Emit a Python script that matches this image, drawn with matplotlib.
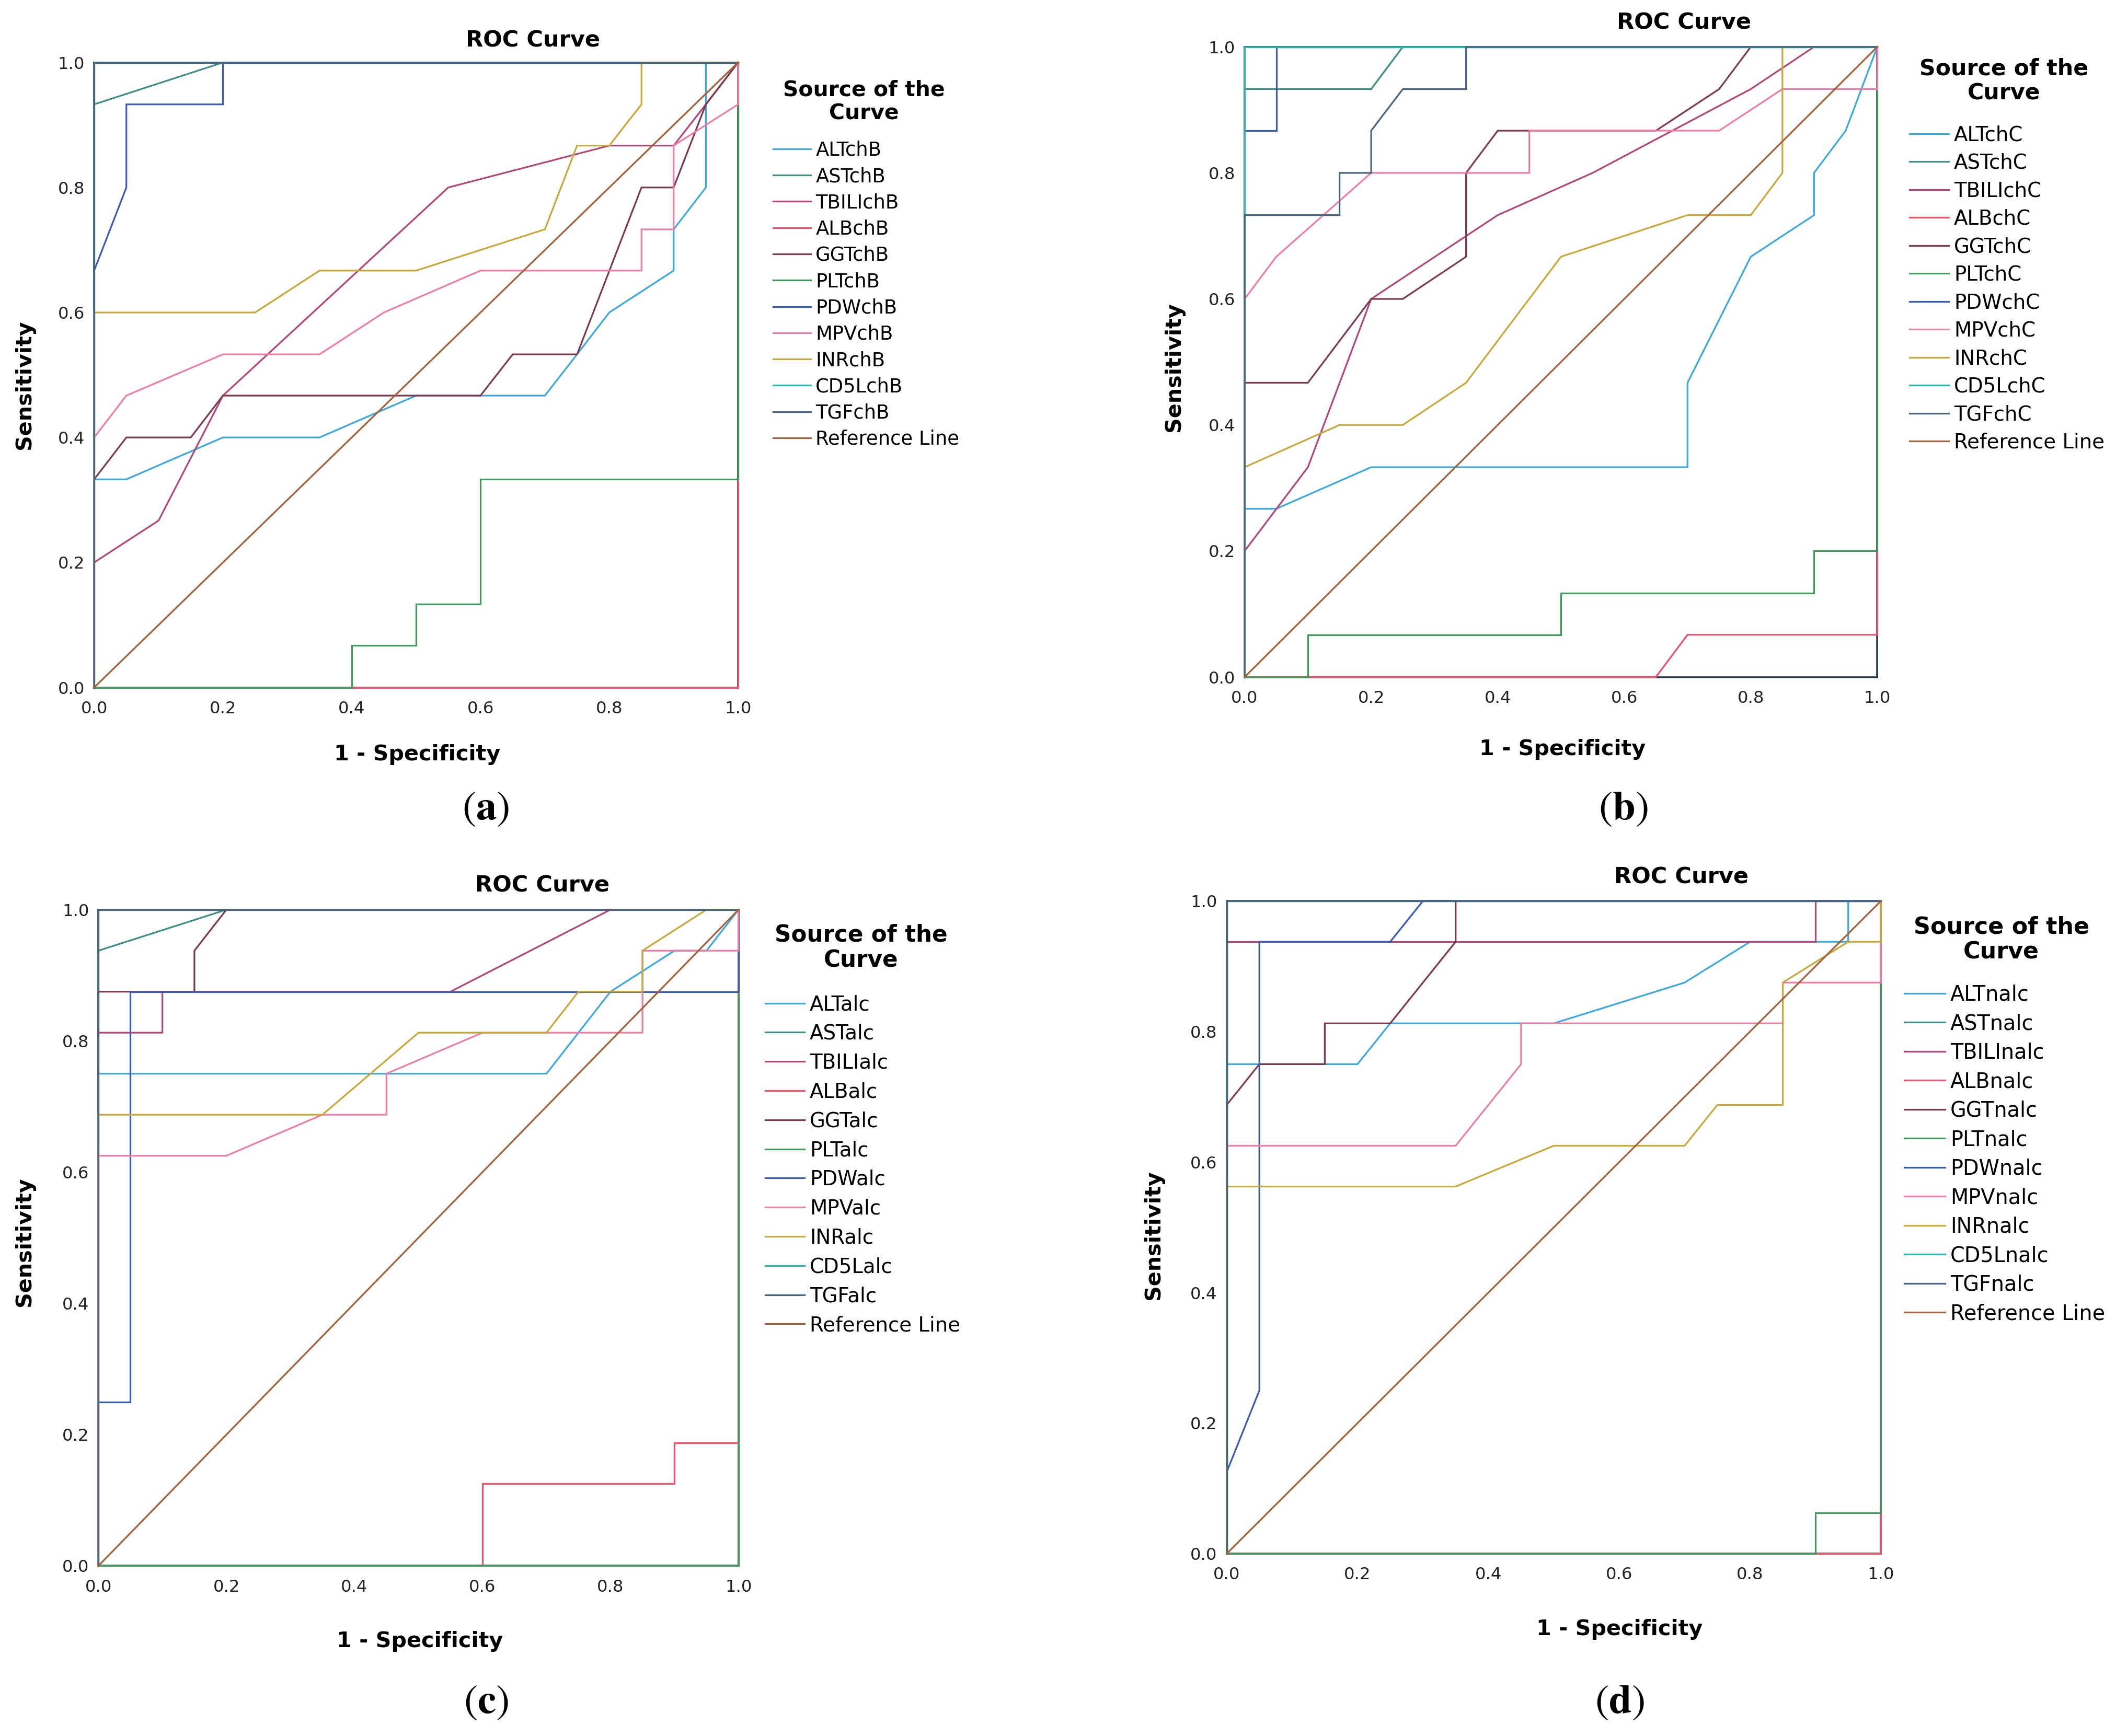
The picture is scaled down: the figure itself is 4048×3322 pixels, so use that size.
import matplotlib
matplotlib.use("Agg")
import matplotlib.pyplot as plt

plt.rcParams["font.family"] = ["DejaVu Sans"]
plt.rcParams["mathtext.fontset"] = "stix"

# ---- data (1 - specificity, sensitivity) ----
names = ["ALT", "AST", "TBILI", "ALB", "GGT", "PLT", "PDW", "MPV", "INR", "CD5L", "TGF"]
suffix = ["chB", "chC", "alc", "nalc"]
panel_tags = ["a", "b", "c", "d"]

colors = ["#3BA9E0", "#3E8E86", "#B5467A", "#F0526E", "#7D3A4E", "#3F9A5C",
          "#3A5BB8", "#F07CA8", "#C8A838", "#2CB8A8", "#4A6580"]
ref_color = "#A4623A"

curves_a = {
    "ALT": ([0, 0, 0.05, 0.2, 0.35, 0.5, 0.7, 0.75, 0.8, 0.9, 0.9, 0.95, 0.95, 1],
            [0, 0.333, 0.333, 0.4, 0.4, 0.467, 0.467, 0.533, 0.6, 0.667, 0.733, 0.8, 1, 1]),
    "AST": ([0, 0, 0.2, 1], [0, 0.933, 1, 1]),
    "TBILI": ([0, 0, 0.1, 0.2, 0.55, 0.8, 0.9, 0.95, 1],
              [0, 0.2, 0.267, 0.467, 0.8, 0.867, 0.867, 0.933, 1]),
    "ALB": ([0, 1, 1], [0, 0, 1]),
    "GGT": ([0, 0, 0.05, 0.15, 0.2, 0.6, 0.65, 0.75, 0.85, 0.9, 0.95, 1],
            [0, 0.333, 0.4, 0.4, 0.467, 0.467, 0.533, 0.533, 0.8, 0.8, 0.933, 1]),
    "PLT": ([0, 0.4, 0.4, 0.5, 0.5, 0.6, 0.6, 1, 1],
            [0, 0, 0.067, 0.067, 0.133, 0.133, 0.333, 0.333, 1]),
    "PDW": ([0, 0, 0.05, 0.05, 0.2, 0.2, 1], [0, 0.667, 0.8, 0.933, 0.933, 1, 1]),
    "MPV": ([0, 0, 0.05, 0.2, 0.35, 0.45, 0.6, 0.85, 0.85, 0.9, 0.9, 1, 1],
            [0, 0.4, 0.467, 0.533, 0.533, 0.6, 0.667, 0.667, 0.733, 0.733, 0.867, 0.933, 1]),
    "INR": ([0, 0, 0.25, 0.35, 0.5, 0.7, 0.75, 0.8, 0.85, 0.85, 1],
            [0, 0.6, 0.6, 0.667, 0.667, 0.733, 0.867, 0.867, 0.933, 1, 1]),
    "CD5L": ([0, 0, 1], [0, 1, 1]),
    "TGF": ([0, 0, 1], [0, 1, 1]),
}

curves_b = {
    "ALT": ([0, 0, 0.05, 0.2, 0.7, 0.7, 0.8, 0.9, 0.9, 0.95, 1],
            [0, 0.267, 0.267, 0.333, 0.333, 0.467, 0.667, 0.733, 0.8, 0.867, 1]),
    "AST": ([0, 0, 0.2, 0.25, 1], [0, 0.933, 0.933, 1, 1]),
    "TBILI": ([0, 0, 0.1, 0.2, 0.4, 0.55, 0.8, 0.9, 1],
              [0, 0.2, 0.333, 0.6, 0.733, 0.8, 0.933, 1, 1]),
    "ALB": ([0, 0.65, 0.7, 1, 1, 1], [0, 0, 0.067, 0.067, 0.2, 1]),
    "GGT": ([0, 0, 0.1, 0.2, 0.25, 0.35, 0.35, 0.4, 0.65, 0.75, 0.8, 1],
            [0, 0.467, 0.467, 0.6, 0.6, 0.667, 0.8, 0.867, 0.867, 0.933, 1, 1]),
    "PLT": ([0, 0.1, 0.1, 0.5, 0.5, 0.9, 0.9, 1, 1],
            [0, 0, 0.067, 0.067, 0.133, 0.133, 0.2, 0.2, 1]),
    "PDW": ([0, 0, 0.05, 0.05, 1], [0, 0.867, 0.867, 1, 1]),
    "MPV": ([0, 0, 0.05, 0.2, 0.45, 0.45, 0.75, 0.85, 1, 1],
            [0, 0.6, 0.667, 0.8, 0.8, 0.867, 0.867, 0.933, 0.933, 1]),
    "INR": ([0, 0, 0.15, 0.25, 0.35, 0.5, 0.7, 0.8, 0.85, 0.85, 1],
            [0, 0.333, 0.4, 0.4, 0.467, 0.667, 0.733, 0.733, 0.8, 1, 1]),
    "CD5L": ([0, 0, 1], [0, 1, 1]),
    "TGF": ([0, 0, 0.15, 0.15, 0.2, 0.2, 0.25, 0.35, 0.35, 1],
            [0, 0.733, 0.733, 0.8, 0.8, 0.867, 0.933, 0.933, 1, 1]),
}

curves_c = {
    "ALT": ([0, 0, 0.7, 0.8, 0.9, 0.95, 1], [0, 0.75, 0.75, 0.875, 0.9375, 0.9375, 1]),
    "AST": ([0, 0, 0.2, 1], [0, 0.9375, 1, 1]),
    "TBILI": ([0, 0, 0.1, 0.1, 0.55, 0.8, 1], [0, 0.8125, 0.8125, 0.875, 0.875, 1, 1]),
    "ALB": ([0, 0.6, 0.6, 0.9, 0.9, 1, 1], [0, 0, 0.125, 0.125, 0.1875, 0.1875, 1]),
    "GGT": ([0, 0, 0.15, 0.15, 0.2, 1], [0, 0.875, 0.875, 0.9375, 1, 1]),
    "PLT": ([0, 1, 1], [0, 0, 1]),
    "PDW": ([0, 0, 0.05, 0.05, 1, 1, 1], [0, 0.25, 0.25, 0.875, 0.875, 0.9375, 1]),
    "MPV": ([0, 0, 0.2, 0.35, 0.45, 0.45, 0.6, 0.85, 0.85, 1, 1],
            [0, 0.625, 0.625, 0.6875, 0.6875, 0.75, 0.8125, 0.8125, 0.9375, 0.9375, 1]),
    "INR": ([0, 0, 0.35, 0.5, 0.7, 0.75, 0.85, 0.85, 0.95, 1],
            [0, 0.6875, 0.6875, 0.8125, 0.8125, 0.875, 0.875, 0.9375, 1, 1]),
    "CD5L": ([0, 0, 1], [0, 1, 1]),
    "TGF": ([0, 0, 1], [0, 1, 1]),
}

curves_d = {
    "ALT": ([0, 0, 0.2, 0.25, 0.5, 0.7, 0.8, 0.95, 0.95, 1],
            [0, 0.75, 0.75, 0.8125, 0.8125, 0.875, 0.9375, 0.9375, 1, 1]),
    "AST": ([0, 0, 1], [0, 1, 1]),
    "TBILI": ([0, 0, 0.9, 0.9, 1], [0, 0.9375, 0.9375, 1, 1]),
    "ALB": ([0, 1, 1], [0, 0, 1]),
    "GGT": ([0, 0, 0.05, 0.15, 0.15, 0.25, 0.35, 0.35, 1],
            [0, 0.6875, 0.75, 0.75, 0.8125, 0.8125, 0.9375, 1, 1]),
    "PLT": ([0, 0.9, 0.9, 1, 1], [0, 0, 0.0625, 0.0625, 1]),
    "PDW": ([0, 0, 0.05, 0.05, 0.25, 0.3, 1], [0, 0.125, 0.25, 0.9375, 0.9375, 1, 1]),
    "MPV": ([0, 0, 0.35, 0.45, 0.45, 0.85, 0.85, 1, 1],
            [0, 0.625, 0.625, 0.75, 0.8125, 0.8125, 0.875, 0.875, 1]),
    "INR": ([0, 0, 0.35, 0.5, 0.7, 0.75, 0.85, 0.85, 0.95, 1, 1],
            [0, 0.5625, 0.5625, 0.625, 0.625, 0.6875, 0.6875, 0.875, 0.9375, 0.9375, 1]),
    "CD5L": ([0, 0, 1], [0, 1, 1]),
    "TGF": ([0, 0, 1], [0, 1, 1]),
}

all_curves = [curves_a, curves_b, curves_c, curves_d]

# layout (figure fractions); reference panels were scaled slightly differently
axes_rects = [[0.0445, 0.604, 0.3043, 0.360],
              [0.5882, 0.610, 0.2990, 0.363],
              [0.0465, 0.098, 0.3025, 0.378],
              [0.5797, 0.105, 0.3092, 0.376]]
title_pos = [(0.2519, 0.9767), (0.7959, 0.9868), (0.2564, 0.4899), (0.7946, 0.4946)]
xlab_pos = [(0.1971, 0.5653), (0.7385, 0.5684), (0.1983, 0.0544), (0.7653, 0.0614)]
ylab_pos = [(0.0115, 0.7784), (0.5548, 0.7885), (0.0115, 0.2846), (0.5453, 0.2885)]
tag_pos = [(0.2296, 0.5334), (0.7672, 0.5334), (0.2296, 0.0187), (0.7653, 0.0187)]
legtitle_pos = [(0.4082, 0.9413), (0.9471, 0.9533), (0.4069, 0.4541), (0.9458, 0.4588)]
legtitle_size = [11.4, 11.9, 12.2, 12.4]
legend_pos = [(0.3654, 0.9191), (0.9024, 0.9279), (0.3616, 0.4271), (0.9000, 0.4330)]
legend_size = [10.3, 10.8, 10.8, 11.1]
legend_spacing = [0.36, 0.40, 0.46, 0.39]

fig = plt.figure(figsize=(15.69, 12.876), dpi=258)

for k in range(4):
    ax = fig.add_axes(axes_rects[k])
    curves = all_curves[k]
    handles = []
    for i, nm in enumerate(names):
        xs, ys = curves[nm]
        ln, = ax.plot(xs, ys, color=colors[i], lw=0.9, zorder=3, clip_on=False,
                      label=nm + suffix[k], solid_joinstyle="miter")
        handles.append(ln)
    ln, = ax.plot([0, 1], [0, 1], color=ref_color, lw=0.9, zorder=3, clip_on=False,
                  label="Reference Line")
    handles.append(ln)

    ax.set_xlim(0, 1)
    ax.set_ylim(0, 1)
    ax.set_xticks([0, 0.2, 0.4, 0.6, 0.8, 1.0])
    ax.set_yticks([0, 0.2, 0.4, 0.6, 0.8, 1.0])
    ax.set_xticklabels(["0.0", "0.2", "0.4", "0.6", "0.8", "1.0"])
    ax.set_yticklabels(["0.0", "0.2", "0.4", "0.6", "0.8", "1.0"])
    ax.tick_params(length=0, labelsize=9, colors="#222222")
    ax.tick_params(axis="x", pad=7)
    ax.tick_params(axis="y", pad=5)
    for sp in ax.spines.values():
        sp.set_color("#2a3a48")
        sp.set_linewidth(1.0)
        sp.set_zorder(2)

    fig.text(*title_pos[k], "ROC Curve", ha="center", va="center",
             fontsize=12, fontweight="bold")
    fig.text(*xlab_pos[k], "1 - Specificity", ha="center", va="center",
             fontsize=11.5, fontweight="bold")
    fig.text(*ylab_pos[k], "Sensitivity", ha="center", va="center",
             fontsize=11.5, fontweight="bold", rotation=90)
    fig.text(*tag_pos[k], r"($\mathbf{%s}$)" % panel_tags[k], ha="center", va="center",
             fontsize=22, family="STIXGeneral")
    fig.text(*legtitle_pos[k], "Source of the\nCurve", ha="center", va="center",
             multialignment="center", fontsize=legtitle_size[k], fontweight="bold",
             linespacing=1.15)

    fig.legend(handles=handles, loc="upper left", bbox_to_anchor=legend_pos[k],
               bbox_transform=fig.transFigure, frameon=False, fontsize=legend_size[k],
               handlelength=1.95, handletextpad=0.25,
               labelspacing=legend_spacing[k], borderpad=0, borderaxespad=0)

fig.savefig("out.png", dpi=258)
